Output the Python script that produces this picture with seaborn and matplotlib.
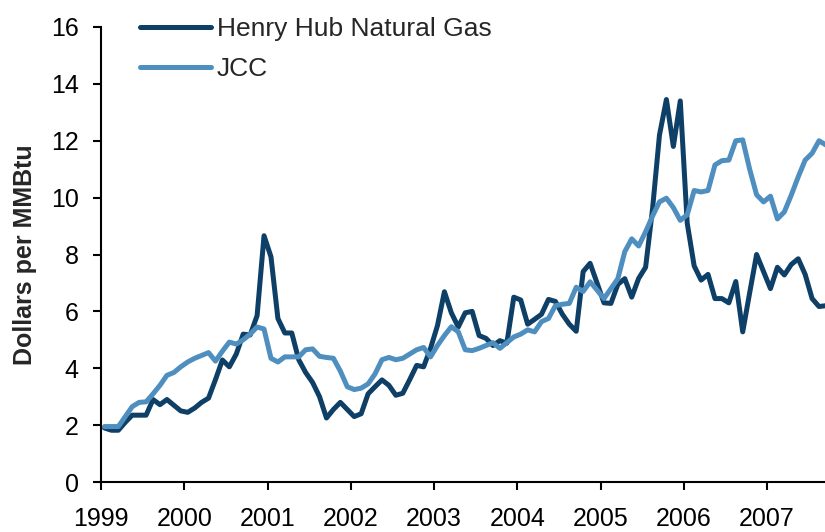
import matplotlib
matplotlib.use("Agg")
import matplotlib.pyplot as plt
import seaborn as sns
import numpy as np
import pandas as pd

# monthly prices, Jan 1999 .. Sep 2007 (Dollars per MMBtu)
henry_hub = [
    1.90, 1.82, 1.82, 2.10, 2.35, 2.35, 2.35, 2.90, 2.72, 2.90, 2.70, 2.50,
    2.45, 2.60, 2.80, 2.95, 3.60, 4.29, 4.05, 4.50, 5.20, 5.17, 5.85, 8.66,
    7.92, 5.75, 5.24, 5.24, 4.30, 3.85, 3.50, 3.00, 2.25, 2.55, 2.80, 2.55,
    2.30, 2.40, 3.10, 3.35, 3.59, 3.40, 3.05, 3.12, 3.60, 4.10, 4.05, 4.70,
    5.50, 6.69, 5.95, 5.45, 5.95, 6.00, 5.15, 5.05, 4.80, 4.97, 4.88, 6.50,
    6.40, 5.55, 5.72, 5.90, 6.42, 6.35, 5.90, 5.55, 5.30, 7.40, 7.69, 7.00,
    6.30, 6.28, 6.95, 7.15, 6.50, 7.16, 7.55, 9.60, 12.20, 13.45, 11.80, 13.40,
    9.10, 7.60, 7.10, 7.30, 6.45, 6.45, 6.30, 7.05, 5.28, 6.65, 8.00, 7.40,
    6.80, 7.55, 7.28, 7.65, 7.85, 7.30, 6.45, 6.17, 6.20,
]
jcc = [
    1.95, 1.95, 1.95, 2.30, 2.65, 2.80, 2.82, 3.10, 3.40, 3.75, 3.85, 4.05,
    4.22, 4.35, 4.45, 4.55, 4.25, 4.60, 4.92, 4.85, 5.00, 5.20, 5.45, 5.38,
    4.35, 4.22, 4.40, 4.40, 4.40, 4.65, 4.68, 4.42, 4.38, 4.35, 3.90, 3.35,
    3.25, 3.30, 3.45, 3.80, 4.30, 4.38, 4.30, 4.35, 4.50, 4.65, 4.73, 4.40,
    4.80, 5.15, 5.46, 5.28, 4.65, 4.62, 4.70, 4.80, 4.90, 4.70, 4.90, 5.10,
    5.20, 5.35, 5.28, 5.64, 5.75, 6.20, 6.25, 6.28, 6.85, 6.70, 7.04, 6.75,
    6.45, 6.80, 7.15, 8.10, 8.55, 8.30, 8.80, 9.35, 9.85, 9.98, 9.65, 9.20,
    9.40, 10.25, 10.20, 10.25, 11.15, 11.30, 11.32, 12.00, 12.03, 11.00, 10.10, 9.85,
    10.05, 9.25, 9.50, 10.09, 10.73, 11.32, 11.56, 12.00, 11.85,
]
years = [1999, 2000, 2001, 2002, 2003, 2004, 2005, 2006, 2007]

# mid-month positions in fractional years
t = 1999 + (np.arange(len(henry_hub)) + 0.5) / 12
df = pd.DataFrame({"t": t, "Henry Hub Natural Gas": henry_hub, "JCC": jcc})

sns.set_style("ticks")
plt.rcParams["font.family"] = ["Liberation Sans", "DejaVu Sans"]

fig = plt.figure(figsize=(8.25, 5.32), dpi=100)
ax = fig.add_axes([101 / 825, 50 / 532, 724 / 825, 455 / 532])

sns.lineplot(data=df, x="t", y="Henry Hub Natural Gas", ax=ax, color="#0e3f66",
             lw=3.6, label="Henry Hub Natural Gas")
sns.lineplot(data=df, x="t", y="JCC", ax=ax, color="#4f8fbf",
             lw=3.6, label="JCC")

ax.set_xlim(1999, 1999 + 724 / 83.25)
ax.set_ylim(0, 16)
ax.set_yticks(range(0, 17, 2))
ax.set_xticks(years)
ax.set_xticklabels([str(y) for y in years])
ax.set_xlabel("")
ax.set_ylabel("Dollars per MMBtu", fontsize=18, fontweight="bold", labelpad=10)

ax.tick_params(axis="both", labelsize=18, length=6, width=1.5, color="black",
               labelcolor="black")
ax.tick_params(axis="x", pad=12)
ax.tick_params(axis="y", pad=10)
for s in ["top", "right"]:
    ax.spines[s].set_visible(False)
for s in ["left", "bottom"]:
    ax.spines[s].set_linewidth(1.5)
    ax.spines[s].set_color("black")

leg = ax.legend(loc="upper left", bbox_to_anchor=(0.054, 1.022), frameon=False,
                fontsize=19, handlelength=2.7, handletextpad=0.2,
                labelspacing=0.6, borderpad=0, borderaxespad=0)

fig.savefig("out.png", dpi=100)
